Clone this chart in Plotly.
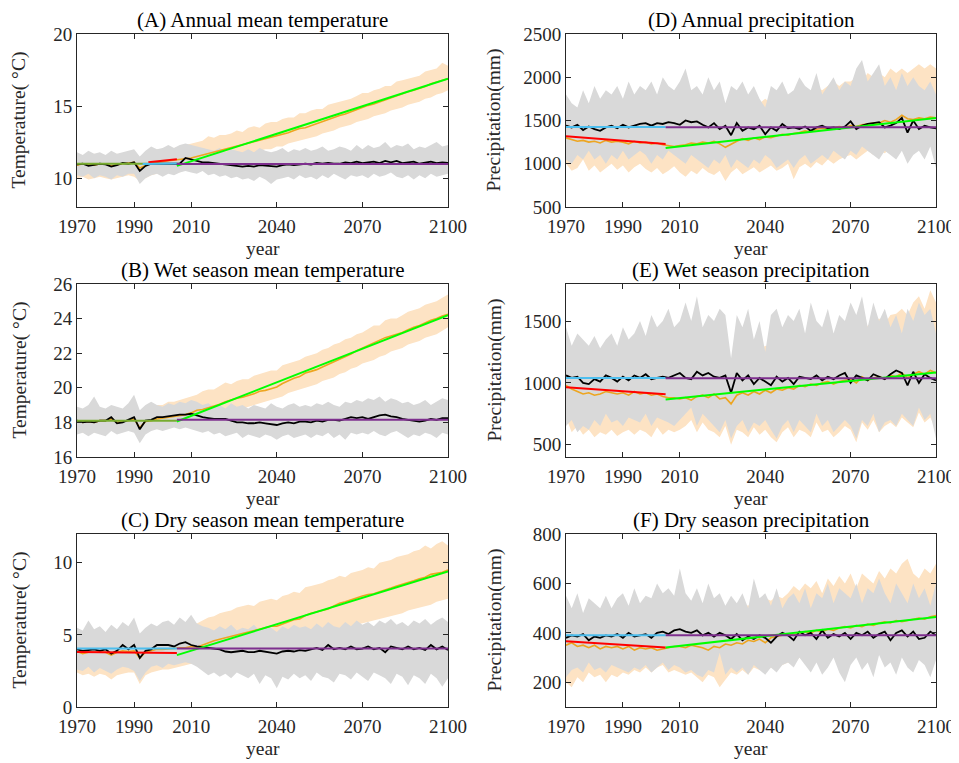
import plotly.graph_objects as go

YEARS = list(range(1970, 2101, 2))
TICKS_X = [1970, 1990, 2010, 2040, 2070, 2100]

# ---------------- Panel A: annual mean temperature ----------------
A_black = [10.95, 11.0, 10.85, 10.95, 11.0, 10.95, 10.8, 10.9, 11.05, 11.0,
           11.1, 10.5, 10.85, 11.0, 11.0, 10.95, 11.0, 11.0, 11.0, 11.4,
           11.3, 11.25, 11.1, 11.1, 11.05, 11.0, 11.0, 10.9, 10.85, 10.8,
           10.85, 10.8, 10.9, 10.85, 10.8, 10.8, 10.9, 10.95, 10.9, 10.95,
           11.0, 10.95, 11.05, 11.0, 11.05, 11.0, 11.0, 11.1, 11.05, 11.15,
           11.05, 11.1, 11.15, 11.05, 11.2, 11.1, 11.2, 11.05, 11.1, 11.15,
           11.0, 11.1, 11.15, 11.05, 11.1, 11.05]
A_orange = [10.9, 11.0, 10.95, 10.9, 11.0, 11.0, 10.85, 10.95, 11.0, 11.05,
            11.1, 10.7, 10.9, 11.05, 11.1, 11.15, 11.2, 11.25, 11.3, 11.3,
            11.4, 11.5, 11.6, 11.75, 11.85, 11.9, 12.0, 12.1, 12.25, 12.35,
            12.45, 12.55, 12.6, 12.75, 12.85, 12.95, 13.0, 13.15, 13.3, 13.45,
            13.5, 13.65, 13.8, 13.9, 14.05, 14.2, 14.35, 14.45, 14.6, 14.75,
            14.95, 15.05, 15.15, 15.3, 15.45, 15.55, 15.7, 15.85, 16.0, 16.1,
            16.2, 16.35, 16.55, 16.65, 16.75, 16.9]
A_orange_hi = [11.7, 11.6, 11.5, 11.7, 11.6, 11.5, 11.6, 11.7, 11.6, 11.7,
               11.8, 11.4, 11.7, 11.9, 12.0, 12.0, 12.1, 12.1, 12.2, 12.3,
               12.4, 12.5, 12.6, 12.9, 12.8, 13.0, 13.0, 13.1, 13.3, 13.2,
               13.5, 13.6, 13.5, 13.8, 13.9, 13.9, 14.1, 14.2, 14.2, 14.5,
               14.5, 14.7, 14.8, 14.8, 15.1, 15.2, 15.3, 15.4, 15.5, 15.7,
               15.9, 15.9, 16.1, 16.2, 16.4, 16.4, 16.7, 16.8, 16.9, 17.0,
               17.1, 17.4, 17.5, 17.6, 18.0, 17.8]
A_orange_lo = [10.0, 10.1, 9.9, 10.0, 10.1, 10.0, 9.9, 10.0, 10.1, 10.2,
               10.1, 9.8, 10.0, 10.2, 10.3, 10.3, 10.4, 10.5, 10.4, 10.6,
               10.7, 10.8, 10.9, 11.0, 11.1, 11.2, 11.3, 11.3, 11.5, 11.5,
               11.7, 11.7, 11.9, 12.0, 12.0, 12.2, 12.2, 12.4, 12.5, 12.6,
               12.7, 12.8, 12.9, 13.1, 13.2, 13.3, 13.5, 13.6, 13.7, 13.9,
               14.0, 14.1, 14.3, 14.4, 14.5, 14.7, 14.8, 14.9, 15.1, 15.2,
               15.3, 15.5, 15.6, 15.8, 15.9, 16.1]
A_gray_hi = [11.8, 11.6, 11.9, 11.7, 11.8, 11.6, 11.9, 11.7, 11.8, 11.9,
             12.0, 11.5, 11.9, 12.2, 12.0, 12.1, 12.3, 12.1, 12.3, 12.4,
             12.3, 12.2, 12.1, 12.0, 11.9, 12.1, 11.8, 12.0, 11.9, 11.8,
             12.0, 11.8, 12.1, 11.9, 11.8, 11.9, 12.1, 11.8, 12.0, 11.9,
             12.1, 11.9, 12.0, 12.2, 11.9, 12.0, 12.2, 12.1, 11.9, 12.3,
             12.0, 12.3, 12.1, 12.2, 12.5, 12.1, 12.3, 12.2, 12.4, 12.0,
             12.2, 12.1, 12.3, 12.5, 12.2, 12.3]
A_gray_lo = [10.2, 10.1, 10.3, 10.0, 10.2, 10.1, 9.9, 10.2, 10.1, 10.3,
             10.3, 9.6, 10.0, 10.2, 10.3, 10.1, 10.3, 10.2, 10.4, 10.5,
             10.4, 10.3, 10.5, 10.2, 10.3, 10.1, 10.2, 10.0, 10.1, 9.9,
             10.0, 9.8, 10.1, 9.9, 9.6, 9.9, 10.0, 10.1, 9.9, 10.2,
             10.0, 10.1, 9.9, 10.2, 10.0, 10.3, 10.1, 9.9, 10.2, 10.1,
             10.2, 10.0, 10.3, 10.1, 10.2, 10.4, 10.1, 10.0, 10.2, 9.9,
             10.2, 10.0, 10.3, 10.1, 10.2, 10.3]

# ---------------- Panel B: wet season mean temperature ----------------
B_black = [18.1, 18.0, 18.05, 18.0, 18.1, 18.1, 18.3, 17.95, 18.0, 18.15,
           18.3, 17.6, 18.1, 18.15, 18.3, 18.3, 18.35, 18.4, 18.45, 18.45,
           18.5, 18.4, 18.3, 18.25, 18.2, 18.2, 18.2, 18.1, 18.0, 18.0,
           17.95, 17.95, 18.0, 17.95, 17.9, 17.85, 17.95, 18.0, 17.95, 18.05,
           18.05, 18.0, 18.1, 18.05, 18.15, 18.15, 18.1, 18.2, 18.3, 18.25,
           18.3, 18.2, 18.3, 18.4, 18.45, 18.35, 18.3, 18.2, 18.15, 18.1,
           18.05, 18.1, 18.2, 18.15, 18.25, 18.25]
B_orange = [18.1, 18.0, 18.05, 18.0, 18.1, 18.1, 18.2, 18.0, 18.05, 18.1,
            18.2, 17.7, 18.05, 18.1, 18.2, 18.25, 18.3, 18.35, 18.4, 18.45,
            18.55, 18.7, 18.75, 18.85, 18.95, 19.05, 19.2, 19.3, 19.4, 19.45,
            19.55, 19.65, 19.8, 19.85, 19.95, 20.05, 20.25, 20.4, 20.55, 20.65,
            20.85, 20.95, 21.05, 21.2, 21.35, 21.5, 21.65, 21.8, 21.95, 22.15,
            22.3, 22.45, 22.6, 22.75, 22.9, 23.0, 23.1, 23.2, 23.35, 23.5,
            23.6, 23.75, 23.9, 24.0, 24.15, 24.25]
B_orange_hi = [18.6, 18.5, 18.7, 18.5, 18.6, 18.7, 18.8, 18.6, 18.7, 18.8,
               18.9, 18.3, 18.8, 18.9, 19.0, 19.0, 19.2, 19.2, 19.3, 19.4,
               19.5, 19.6, 19.8, 19.9, 19.9, 20.1, 20.3, 20.2, 20.4, 20.5,
               20.5, 20.7, 20.8, 20.9, 21.0, 21.0, 21.3, 21.4, 21.5, 21.6,
               21.8, 21.9, 22.0, 22.2, 22.3, 22.5, 22.6, 22.8, 22.9, 23.1,
               23.2, 23.4, 23.6, 23.6, 23.9, 24.0, 24.0, 24.2, 24.4, 24.5,
               24.6, 24.8, 24.9, 25.0, 25.2, 25.4]
B_orange_lo = [17.5, 17.4, 17.5, 17.4, 17.6, 17.5, 17.6, 17.4, 17.5, 17.6,
               17.6, 17.0, 17.5, 17.6, 17.7, 17.6, 17.8, 17.9, 18.0, 18.1,
               17.9, 18.0, 18.1, 18.2, 18.3, 18.4, 18.5, 18.6, 18.7, 18.8,
               18.9, 19.0, 19.1, 19.2, 19.3, 19.4, 19.5, 19.7, 19.8, 19.9,
               20.0, 20.1, 20.2, 20.4, 20.5, 20.6, 20.8, 20.9, 21.1, 21.2,
               21.4, 21.5, 21.6, 21.8, 21.9, 22.1, 22.2, 22.3, 22.5, 22.6,
               22.7, 22.9, 23.0, 23.1, 23.3, 23.5]
B_gray_hi = [18.9, 18.8, 19.0, 19.5, 18.9, 18.8, 19.0, 18.9, 18.8, 19.1,
             19.6, 18.7, 19.0, 19.2, 19.0, 18.9, 19.1, 19.0, 19.2, 19.1,
             19.3, 19.2, 19.0, 19.1, 18.9, 19.0, 18.8, 19.1, 18.9, 19.0,
             18.8, 19.0, 18.9, 18.8, 19.1, 18.9, 18.8, 19.0, 19.1, 18.9,
             19.0, 18.9, 19.1, 19.0, 19.2, 19.0, 18.9, 19.2, 19.1, 19.3,
             19.2, 19.4, 19.3, 19.5, 19.2, 19.4, 19.3, 19.1, 19.2, 19.0,
             19.1, 19.3, 19.0, 19.2, 19.4, 19.3]
B_gray_lo = [17.3, 17.4, 17.2, 17.4, 17.3, 17.2, 17.5, 17.3, 17.4, 17.5,
             17.4, 16.8, 17.3, 17.5, 17.6, 17.5, 17.6, 17.7, 17.6, 17.7,
             17.6, 17.5, 17.4, 17.5, 17.3, 17.4, 17.2, 17.3, 17.4, 17.1,
             17.3, 17.2, 17.1, 17.3, 17.2, 17.0, 17.2, 17.3, 17.1, 17.2,
             17.3, 17.1, 17.3, 17.2, 17.4, 17.1, 17.3, 17.0, 17.4, 17.3,
             17.4, 17.3, 17.5, 17.3, 17.2, 17.4, 17.5, 17.3, 17.1, 17.3,
             17.2, 17.4, 17.3, 17.1, 17.4, 17.3]

# ---------------- Panel C: dry season mean temperature ----------------
C_black = [4.0, 3.9, 3.95, 4.0, 3.9, 4.0, 3.7, 3.9, 4.3, 4.0,
           4.3, 3.4, 3.9, 4.0, 4.3, 4.3, 4.3, 4.2, 4.4, 4.5,
           4.3, 4.2, 4.15, 4.1, 4.0, 4.0, 3.85, 3.8, 3.85, 3.9,
           3.8, 3.8, 3.9, 3.85, 3.8, 3.7, 3.85, 3.9, 3.85, 3.95,
           3.9, 4.0, 4.1, 3.95, 4.3, 4.0, 4.1, 4.0, 4.2, 4.0,
           4.05, 4.2, 4.0, 4.1, 3.8, 4.2, 4.1, 4.0, 4.2, 4.0,
           4.1, 3.95, 4.3, 4.0, 4.2, 3.95]
C_orange = [3.85, 3.7, 3.8, 3.8, 3.85, 3.8, 3.6, 3.8, 3.9, 3.85,
            3.9, 3.4, 3.8, 3.9, 4.0, 4.0, 4.05, 4.1, 4.1, 4.1,
            4.2, 4.15, 4.3, 4.5, 4.6, 4.7, 4.8, 4.9, 5.0, 5.15,
            5.2, 5.3, 5.4, 5.5, 5.6, 5.6, 5.75, 5.9, 6.05, 6.1,
            6.35, 6.5, 6.6, 6.75, 6.8, 7.0, 7.2, 7.3, 7.45, 7.55,
            7.7, 7.8, 7.85, 8.0, 8.1, 8.25, 8.4, 8.5, 8.6, 8.75,
            8.9, 9.0, 9.2, 9.25, 9.35, 9.5]
C_orange_hi = [5.0, 4.9, 5.1, 4.8, 5.0, 5.1, 4.7, 5.0, 5.2, 5.0,
               5.1, 4.5, 5.0, 5.1, 5.2, 5.3, 5.3, 5.5, 5.5, 5.6,
               5.7, 5.8, 6.0, 6.2, 6.3, 6.5, 6.6, 6.7, 6.9, 7.0,
               7.1, 7.0, 7.3, 7.4, 7.5, 7.4, 7.7, 7.8, 8.0, 7.9,
               8.3, 8.4, 8.5, 8.6, 8.8, 8.9, 9.1, 9.0, 9.3, 9.4,
               9.5, 9.7, 9.6, 10.0, 10.1, 10.2, 10.4, 10.5, 10.6, 10.8,
               10.9, 11.2, 11.0, 11.3, 11.5, 11.2]
C_orange_lo = [2.4, 2.2, 2.3, 2.1, 2.3, 2.2, 1.9, 2.2, 2.3, 2.4,
               2.4, 1.6, 2.2, 2.4, 2.5, 2.6, 2.6, 2.7, 2.8, 2.9,
               3.0, 3.0, 3.2, 3.3, 3.4, 3.5, 3.5, 3.6, 3.7, 3.8,
               3.9, 4.0, 4.0, 4.1, 4.2, 4.2, 4.3, 4.5, 4.6, 4.6,
               4.8, 4.9, 5.0, 5.1, 5.1, 5.3, 5.4, 5.5, 5.6, 5.7,
               5.8, 5.9, 6.0, 6.1, 6.2, 6.3, 6.4, 6.5, 6.7, 6.8,
               6.9, 7.0, 7.1, 7.3, 7.4, 7.5]
C_gray_hi = [5.5, 5.3, 6.0, 5.4, 5.6, 5.2, 5.7, 5.4, 5.9, 5.6,
             6.2, 5.1, 5.5, 5.8, 5.6, 5.9, 6.0, 5.7, 6.2, 5.9,
             6.4, 5.8, 5.6, 5.5, 5.3, 5.6, 5.4, 5.7, 5.3, 5.5,
             5.4, 5.7, 5.3, 5.6, 5.5, 5.2, 5.6, 5.4, 5.7, 5.5,
             5.6, 5.4, 5.8, 5.5, 5.9, 5.6, 5.5, 5.9, 5.6, 6.0,
             5.7, 5.9, 5.6, 6.0, 5.8, 6.1, 5.7, 5.9, 5.6, 6.0,
             5.8, 6.1, 5.7, 6.0, 6.2, 5.9]
C_gray_lo = [2.6, 2.5, 2.8, 2.4, 2.7, 2.5, 2.3, 2.6, 2.8, 2.7,
             2.5, 1.8, 2.4, 2.8, 2.9, 2.7, 3.0, 2.9, 3.0, 3.1,
             3.0, 2.8, 2.5, 2.2, 2.4, 2.1, 2.3, 2.0, 2.4, 2.2,
             2.0, 2.3, 1.6, 2.2, 2.0, 1.3, 2.1, 1.9, 2.3, 2.0,
             2.2, 1.8, 2.4, 2.1, 2.0, 1.7, 2.3, 2.2, 1.9, 2.4,
             2.1, 1.8, 2.4, 2.2, 2.0, 1.6, 2.3, 2.1, 1.5, 2.2,
             2.0, 1.6, 2.3, 2.0, 1.4, 2.0]

# ---------------- Panel D: annual precipitation ----------------
D_black = [1440, 1420, 1450, 1390, 1430, 1400, 1380, 1420, 1440, 1410,
           1450, 1420, 1440, 1460, 1470, 1440, 1470, 1460, 1480, 1470,
           1450, 1500, 1480, 1490, 1450, 1420, 1470, 1400, 1440, 1330,
           1470, 1380, 1420, 1400, 1440, 1340, 1420, 1380, 1460, 1410,
           1420, 1400, 1430, 1380, 1420, 1440, 1410, 1420, 1400, 1430,
           1490, 1400, 1440, 1460, 1470, 1480, 1420, 1440, 1470, 1530,
           1360, 1500, 1400, 1440, 1420, 1410]
D_orange = [1300, 1280, 1260, 1270, 1250, 1260, 1240, 1270, 1250, 1260,
            1250, 1230, 1260, 1240, 1250, 1230, 1240, 1220, 1210, 1200,
            1210, 1220, 1240, 1230, 1250, 1240, 1260, 1230, 1190, 1230,
            1260, 1290, 1270, 1300, 1280, 1310, 1300, 1320, 1340, 1330,
            1350, 1360, 1380, 1370, 1400, 1410, 1400, 1420, 1430, 1420,
            1440, 1430, 1450, 1460, 1470, 1470, 1500, 1480, 1510, 1560,
            1520, 1510, 1530, 1520, 1540, 1530]
D_orange_hi = [1600, 1550, 1600, 1550, 1600, 1650, 1550, 1600, 1600, 1650,
               1600, 1550, 1600, 1650, 1600, 1550, 1600, 1650, 1550, 1550,
               1600, 1650, 1600, 1650, 1600, 1650, 1700, 1650, 1600, 1650,
               1700, 1650, 1700, 1750, 1700, 1750, 1700, 1800, 1750, 1800,
               1800, 1850, 1800, 1850, 1900, 1850, 1900, 1950, 1900, 1950,
               1950, 2000, 1950, 2050, 2000, 2050, 2000, 2100, 2050, 2100,
               2050, 2100, 2150, 2100, 2150, 2100]
D_orange_lo = [1000, 920, 950, 1050, 920, 980, 900, 950, 1000, 930,
               980, 900, 960, 1000, 940, 900, 950, 880, 920, 970,
               900, 850, 920, 880, 950, 900, 870, 920, 800, 900,
               950, 880, 920, 960, 900, 940, 980, 920, 950, 1000,
               820, 960, 1000, 950, 1020, 980, 1050, 1000, 1050, 1080,
               1100, 1050, 1100, 1150, 1100, 1150, 1120, 1180, 1150, 1200,
               1150, 1200, 1180, 1220, 1200, 1250]
D_gray_hi = [1800, 1700, 1650, 1850, 1700, 1900, 1750, 1850, 1800, 1900,
             1750, 1950, 1800, 1900, 1850, 1950, 1800, 2000, 1900, 1850,
             1950, 2100, 1850, 1900, 1800, 2000, 1850, 1950, 1700, 1900,
             1850, 1950, 1800, 1900, 1750, 1650, 1900, 1850, 1950, 1800,
             1850, 2000, 1900, 1850, 2050, 1800, 1900, 2000, 1850, 1950,
             1900, 2100, 2200, 1950, 2050, 2150, 1900, 2000, 1850, 2050,
             1900, 2000, 1900, 1850, 1950, 1800]
D_gray_lo = [1050, 1000, 1100, 1050, 1150, 1050, 1100, 1000, 1100, 1050,
             1150, 1050, 1100, 1150, 1100, 1000, 1100, 1050, 1150, 1100,
             1050, 1000, 1100, 1050, 1000, 950, 1050, 1000, 1100, 950,
             1050, 1000, 950, 1050, 1000, 1100, 1050, 950, 1000, 1050,
             950, 1050, 1100, 1000, 1050, 1100, 1050, 1150, 1100, 1050,
             1150, 1100, 1200, 1150, 1100, 1050, 1150, 1100, 1050, 1150,
             1000, 1100, 1150, 1050, 1200, 950]

# ---------------- Panel E: wet season precipitation ----------------
E_black = [1060, 1040, 1050, 1000, 990, 1030, 1010, 1060, 1040, 1010,
           1050, 1020, 1060, 1040, 1070, 1030, 1040, 1050, 1040, 1060,
           1080, 1040, 1030, 1090, 1060, 1080, 1050, 1040, 1060, 920,
           1080, 1020, 1060, 990, 1040, 1010, 980, 1050, 1010, 1040,
           990, 1050, 1040, 1030, 1060, 1020, 1050, 1030, 1060, 1080,
           1000, 1060, 1040, 1020, 1070, 1050, 1030, 1070, 1100, 1080,
           980, 1090, 1000, 1070, 1040, 1020]
E_orange = [980, 950, 930, 910, 920, 900, 910, 930, 920, 910,
            920, 900, 930, 910, 920, 900, 910, 890, 880, 880,
            870, 880, 860, 890, 900, 880, 910, 870, 880, 830,
            900, 920, 900, 930, 910, 940, 920, 950, 940, 960,
            950, 980, 970, 990, 980, 1000, 1010, 990, 1010, 1020,
            1030, 1000, 1050, 1020, 1040, 1050, 1030, 1060, 1050, 1080,
            1040, 1070, 1090, 1070, 1100, 1080]
E_orange_hi = [1250, 1200, 1250, 1200, 1220, 1200, 1180, 1220, 1200, 1180,
               1200, 1180, 1220, 1200, 1210, 1180, 1200, 1180, 1160, 1150,
               1150, 1180, 1150, 1200, 1220, 1180, 1230, 1200, 1220, 1150,
               1250, 1270, 1240, 1290, 1260, 1300, 1280, 1320, 1300, 1330,
               1320, 1360, 1340, 1380, 1360, 1400, 1410, 1380, 1420, 1450,
               1450, 1420, 1500, 1460, 1500, 1520, 1480, 1550, 1560, 1600,
               1550, 1650, 1700, 1600, 1750, 1650]
E_orange_lo = [720, 600, 650, 580, 620, 560, 600, 580, 620, 570,
               600, 620, 580, 620, 600, 560, 640, 580, 620, 600,
               620, 650, 700, 600, 680, 620, 600, 560, 650, 500,
               620, 600, 560, 640, 580, 620, 560, 520, 600, 640,
               560, 620, 600, 560, 680, 600, 620, 560, 600, 650,
               620, 520, 680, 620, 700, 600, 650, 680, 640, 720,
               680, 640, 760, 680, 720, 620]
E_gray_hi = [1450, 1300, 1400, 1350, 1300, 1380, 1280, 1350, 1400, 1300,
             1450, 1350, 1400, 1500, 1380, 1550, 1450, 1500, 1600, 1450,
             1500, 1650, 1500, 1700, 1450, 1550, 1500, 1600, 1550, 1200,
             1550, 1450, 1600, 1350, 1500, 1250, 1550, 1600, 1450, 1550,
             1500, 1600, 1400, 1650, 1500, 1450, 1600, 1400, 1550, 1500,
             1650, 1550, 1700, 1450, 1650, 1500, 1600, 1450, 1550, 1400,
             1600, 1500, 1650, 1550, 1600, 1400]
E_gray_lo = [650, 700, 600, 650, 620, 700, 650, 750, 680, 700,
             650, 720, 700, 680, 750, 650, 720, 700, 680, 650,
             700, 750, 800, 650, 750, 700, 650, 600, 700, 550,
             650, 700, 600, 680, 650, 700, 620, 550, 650, 700,
             600, 700, 650, 600, 750, 650, 700, 600, 650, 700,
             650, 550, 700, 650, 750, 600, 680, 700, 650, 750,
             700, 650, 800, 700, 750, 550]

# ---------------- Panel F: dry season precipitation ----------------
F_black = [380, 390, 385, 395, 370, 385, 380, 390, 385, 395,
           380, 400, 385, 390, 395, 380, 400, 405, 395, 410,
           415, 405, 400, 410, 390, 400, 385, 400, 390, 375,
           395, 370, 385, 375, 390, 380, 360, 385, 400, 390,
           370, 405, 390, 400, 375, 410, 380, 395, 385, 400,
           375, 400, 390, 405, 380, 395, 405, 370, 400, 410,
           385, 405, 375, 380, 405, 390]
F_orange = [350, 360, 345, 350, 340, 350, 335, 345, 340, 345,
            335, 345, 330, 340, 335, 340, 330, 335, 340, 345,
            345, 340, 350, 345, 340, 330, 345, 340, 355, 350,
            360, 355, 370, 365, 375, 360, 380, 385, 390, 395,
            390, 400, 405, 400, 410, 405, 415, 410, 420, 425,
            420, 430, 425, 435, 430, 440, 445, 440, 450, 445,
            450, 455, 460, 455, 465, 470]
F_orange_hi = [500, 480, 490, 470, 490, 480, 470, 500, 480, 490,
               480, 470, 490, 480, 500, 470, 490, 500, 480, 490,
               500, 490, 480, 500, 470, 510, 490, 500, 480, 520,
               500, 520, 510, 530, 520, 540, 530, 550, 540, 560,
               590, 570, 600, 580, 610, 560, 620, 590, 630, 600,
               640, 580, 640, 620, 600, 650, 620, 660, 640, 680,
               700, 640, 620, 660, 640, 680]
F_orange_lo = [200, 180, 220, 200, 240, 220, 230, 200, 230, 220,
               240, 230, 250, 240, 260, 240, 260, 270, 240, 250,
               240, 230, 240, 220, 200, 230, 220, 180, 210, 240,
               230, 250, 230, 260, 250, 240, 260, 250, 270, 280,
               270, 300, 280, 270, 290, 260, 280, 310, 280, 260,
               300, 320, 290, 310, 280, 330, 300, 320, 290, 320,
               300, 320, 330, 310, 300, 340]
F_gray_hi = [550, 500, 560, 480, 540, 520, 500, 550, 500, 540,
             560, 510, 580, 520, 550, 540, 600, 560, 580, 550,
             660, 560, 530, 580, 520, 600, 540, 560, 510, 550,
             520, 560, 500, 620, 540, 560, 510, 580, 500, 540,
             560, 520, 580, 500, 560, 540, 600, 520, 580, 560,
             540, 600, 520, 580, 560, 620, 560, 520, 600, 560,
             520, 600, 540, 580, 510, 600]
F_gray_lo = [220, 250, 260, 240, 280, 250, 260, 240, 270, 260,
             250, 240, 260, 250, 270, 240, 260, 280, 250, 270,
             260, 240, 250, 230, 220, 250, 240, 320, 230, 260,
             240, 260, 230, 270, 250, 230, 260, 240, 270, 280,
             260, 300, 270, 240, 280, 230, 260, 300, 240, 200,
             270, 300, 250, 280, 220, 310, 260, 280, 230, 300,
             260, 240, 290, 270, 220, 290]

# ---------------- Trend lines (start/end years and values) ----------------
HIST_YEARS = [1970, 2005]
FUT_YEARS = [2005, 2100]
A_red_years, A_red = [1995, 2005], [11.1, 11.32]
A_blue_years, A_blue = [1993, 2005], [10.98, 11.02]
A_olive_years, A_olive = [1970, 1995], [11.0, 11.0]
A_green, A_purple = [10.85, 16.9], [10.98, 10.98]
B_olive_years, B_olive = [1970, 2005], [18.1, 18.1]
B_green, B_purple = [18.05, 24.2], [18.15, 18.15]
C_red, C_blue = [3.82, 3.75], [4.05, 4.05]
C_green, C_purple = [3.6, 9.4], [4.05, 4.05]
D_red, D_blue = [1317, 1228], [1425, 1425]
D_green, D_purple = [1182, 1530], [1421, 1421]
E_red, E_blue = [965, 908], [1040, 1040]
E_green, E_purple = [866, 1084], [1038, 1038]
F_red, F_blue = [366, 341], [390, 390]
F_green, F_purple = [341, 464], [390, 390]

TITLES = ["(A) Annual mean temperature", "(B) Wet season mean temperature",
          "(C) Dry season mean temperature", "(D) Annual precipitation",
          "(E) Wet season precipitation", "(F) Dry season precipitation"]
YLABEL_T = "Temperature( \u00b0C)"
YLABEL_P = "Precipitation(mm)"

C_GRAY = "#d9d9d9"
C_OBAND = "#fde3c4"
C_ORANGE = "#eda520"
C_RED = "#ff0000"
C_BLUE = "#4dbeee"
C_GREEN = "#00ff00"
C_PURPLE = "#7e2f8e"
C_OLIVE = "#77ac30"
FONT = "Liberation Serif"

# The page body has an 8px margin, so the figure is 8px smaller and all
# target pixel positions are shifted by that offset.
OFF = 8
W, H = 959 - OFF, 763 - OFF
# pixel boxes in page coordinates: (left, right, top, bottom)
BOX = {
    1: (77, 448, 34, 207), 2: (566, 936, 34, 207),
    3: (77, 448, 284, 457), 4: (566, 936, 284, 457),
    5: (77, 448, 534, 707), 6: (566, 936, 534, 707),
}


def px(x):
    return (x - OFF) / W


def py(y):
    return 1 - (y - OFF) / H


fig = go.Figure()


def band(ax, hi, lo, color):
    fig.add_trace(go.Scatter(x=YEARS + YEARS[::-1], y=hi + lo[::-1], fill="toself",
                             fillcolor=color, line=dict(width=0), mode="lines",
                             hoverinfo="skip", showlegend=False,
                             xaxis="x" + ax, yaxis="y" + ax))


def line(ax, xs, ys, color, width):
    fig.add_trace(go.Scatter(x=xs, y=ys, mode="lines", line=dict(color=color, width=width),
                             showlegend=False, xaxis="x" + ax, yaxis="y" + ax))


panels = [
    ("", 1, A_black, A_orange, A_orange_hi, A_orange_lo, A_gray_hi, A_gray_lo, [8, 20], [10, 15, 20], TITLES[0], YLABEL_T),
    ("3", 3, B_black, B_orange, B_orange_hi, B_orange_lo, B_gray_hi, B_gray_lo, [16, 26], [16, 18, 20, 22, 24, 26], TITLES[1], YLABEL_T),
    ("5", 5, C_black, C_orange, C_orange_hi, C_orange_lo, C_gray_hi, C_gray_lo, [0, 12], [0, 5, 10], TITLES[2], YLABEL_T),
    ("2", 2, D_black, D_orange, D_orange_hi, D_orange_lo, D_gray_hi, D_gray_lo, [500, 2500], [500, 1000, 1500, 2000, 2500], TITLES[3], YLABEL_P),
    ("4", 4, E_black, E_orange, E_orange_hi, E_orange_lo, E_gray_hi, E_gray_lo, [400, 1800], [500, 1000, 1500], TITLES[4], YLABEL_P),
    ("6", 6, F_black, F_orange, F_orange_hi, F_orange_lo, F_gray_hi, F_gray_lo, [100, 800], [200, 400, 600, 800], TITLES[5], YLABEL_P),
]

trends = {
    "": [(A_olive_years, A_olive, C_OLIVE), (A_red_years, A_red, C_RED), (A_blue_years, A_blue, C_BLUE),
         (FUT_YEARS, A_green, C_GREEN), (FUT_YEARS, A_purple, C_PURPLE)],
    "3": [(B_olive_years, B_olive, C_OLIVE), (FUT_YEARS, B_green, C_GREEN), (FUT_YEARS, B_purple, C_PURPLE)],
    "5": [(HIST_YEARS, C_blue, C_BLUE), (HIST_YEARS, C_red, C_RED),
          (FUT_YEARS, C_green, C_GREEN), (FUT_YEARS, C_purple, C_PURPLE)],
    "2": [(HIST_YEARS, D_blue, C_BLUE), (HIST_YEARS, D_red, C_RED),
          (FUT_YEARS, D_green, C_GREEN), (FUT_YEARS, D_purple, C_PURPLE)],
    "4": [(HIST_YEARS, E_blue, C_BLUE), (HIST_YEARS, E_red, C_RED),
          (FUT_YEARS, E_green, C_GREEN), (FUT_YEARS, E_purple, C_PURPLE)],
    "6": [(HIST_YEARS, F_blue, C_BLUE), (HIST_YEARS, F_red, C_RED),
          (FUT_YEARS, F_green, C_GREEN), (FUT_YEARS, F_purple, C_PURPLE)],
}

annotations = []
layout_axes = {}
for ax, b, blk, org, ohi, olo, ghi, glo, yr, yt, title, ylab in panels:
    band(ax, ohi, olo, C_OBAND)
    band(ax, ghi, glo, C_GRAY)
    line(ax, YEARS, org, C_ORANGE, 1.6)
    line(ax, YEARS, blk, "#000000", 1.8)
    for xs, ys, col in trends[ax]:
        line(ax, xs, ys, col, 2)
    l, r, t, bt = BOX[b]
    axis_common = dict(showline=True, linecolor="#262626", linewidth=1, mirror="ticks",
                       ticks="inside", ticklen=5, tickcolor="#262626", showgrid=False,
                       zeroline=False, automargin=False,
                       tickfont=dict(family=FONT, size=19, color="#262626"))
    layout_axes["xaxis" + ax] = dict(domain=[px(l), px(r)], range=[1970, 2100], tickvals=TICKS_X,
                                     anchor="y" + ax, ticklabelstandoff=2, **axis_common)
    layout_axes["yaxis" + ax] = dict(domain=[py(bt), py(t)], range=yr, tickvals=yt,
                                     anchor="x" + ax, **axis_common)
    cx = px((l + r) / 2)
    annotations.append(dict(text=title, x=cx, y=py(t - 14), xref="paper", yref="paper",
                            xanchor="center", yanchor="middle", showarrow=False,
                            font=dict(family=FONT, size=21, color="#000000")))
    annotations.append(dict(text="year", x=cx, y=py(bt + 41), xref="paper", yref="paper",
                            xanchor="center", yanchor="middle", showarrow=False,
                            font=dict(family=FONT, size=19.5, color="#262626")))
    lx = (l - 58) if ylab == YLABEL_T else (l - 72)
    annotations.append(dict(text=ylab, x=px(lx), y=py((t + bt) / 2), xref="paper", yref="paper",
                            xanchor="center", yanchor="middle", textangle=-90, showarrow=False,
                            font=dict(family=FONT, size=19.5, color="#262626")))

fig.update_layout(template="none", width=W, height=H, margin=dict(l=0, r=0, t=0, b=0, pad=0),
                  plot_bgcolor="white", paper_bgcolor="white",
                  annotations=annotations, **layout_axes)

fig.write_html("out.html")
